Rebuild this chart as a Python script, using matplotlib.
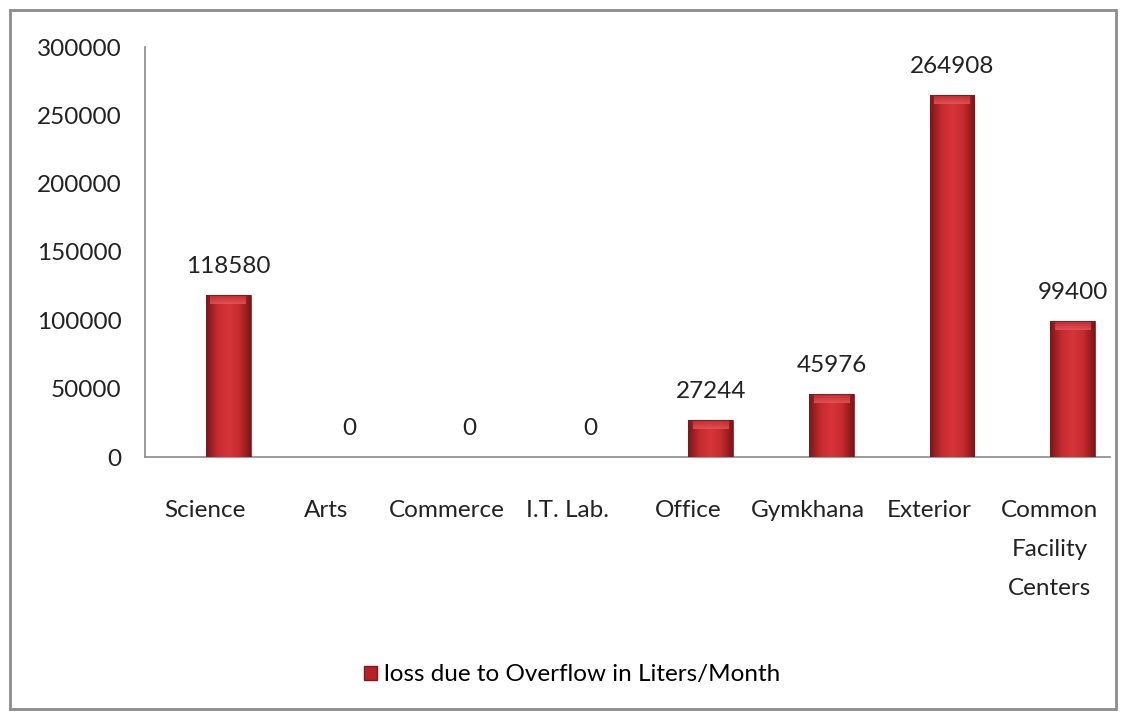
import numpy as np
import matplotlib
matplotlib.use('Agg')
import matplotlib.pyplot as plt
from matplotlib.colors import LinearSegmentedColormap
from matplotlib.patches import Rectangle

categories = ['Science', 'Arts', 'Commerce', 'I.T. Lab.', 'Office', 'Gymkhana',
              'Exterior', 'Common\nFacility\nCenters']
loss = [118580, 0, 0, 0, 27244, 45976, 264908, 99400]
series_name = 'loss due to Overflow in Liters/Month'

plt.rcParams['font.family'] = ['Lato', 'DejaVu Sans']
FS = 17.5

fig = plt.figure(figsize=(11.27, 7.17), dpi=100)
ax = fig.add_axes([145/1127, 1 - 457/717, 965/1127, 410/717])

# outer chart frame
fig.patches.append(Rectangle((10/1127, 8/717), 1106/1127, 699/717,
                             transform=fig.transFigure, fill=False,
                             edgecolor='#8c8c8c', linewidth=2))

x = np.arange(len(categories))
offset = 0.19
width = 0.37

# shaded red bars: dark edges, lighter middle
cmap = LinearSegmentedColormap.from_list('bar', ['#7d1618', '#c42a2e', '#d6363a', '#c42a2e', '#7d1618'])
grad = np.linspace(0, 1, 64).reshape(1, -1)
bevel = LinearSegmentedColormap.from_list('bevel', ['#c42a2e', '#e2585b'])
bars = ax.bar(x + offset, loss, width, color='#c82d30', edgecolor='#7a1a1a', linewidth=0.6, zorder=2)
for b, v in zip(bars, loss):
    if v <= 0:
        continue
    im = ax.imshow(grad, cmap=cmap, aspect='auto', zorder=3,
                   extent=[b.get_x(), b.get_x() + b.get_width(), 0, v])
    im.set_clip_path(b)
    # soft light bevel at the top
    top = ax.imshow(np.linspace(0, 1, 32).reshape(-1, 1), cmap=bevel, aspect='auto', zorder=4, alpha=0.85,
                    extent=[b.get_x() + width*0.1, b.get_x() + width*0.9, v - 6500, v - 400])
    top.set_clip_path(b)
    b.set_zorder(5)
    b.set_facecolor('none')

for xi, v in zip(x, loss):
    ax.text(xi + offset, v + 13000, f'{v}', ha='center', va='bottom', fontsize=FS, color='#222222')

ax.set_xlim(-0.5, len(categories) - 0.5)
ax.set_ylim(0, 300000)
ax.set_yticks(np.arange(0, 300001, 50000))
ax.set_yticklabels([f'{t}' for t in range(0, 300001, 50000)], fontsize=FS, color='#222222')
ax.set_xticks(x)
ax.set_xticklabels(categories, fontsize=FS, color='#222222', linespacing=2.05)
ax.tick_params(axis='both', length=0)
ax.tick_params(axis='y', pad=17)
ax.tick_params(axis='x', pad=31)
for s in ['top', 'right']:
    ax.spines[s].set_visible(False)
ax.spines['left'].set_color('#8a8a8a')
ax.spines['bottom'].set_color('#8a8a8a')
ax.spines['left'].set_linewidth(1.2)
ax.spines['bottom'].set_linewidth(1.2)

handle = Rectangle((0, 0), 1, 1, facecolor='#b82226', edgecolor='#7a1a1a')
fig.legend([handle], [series_name], loc='center', bbox_to_anchor=(572/1127, 1 - 675/717),
           frameon=False, fontsize=FS, handlelength=0.55, handleheight=0.55, handletextpad=0.3)

fig.savefig('out.png', dpi=100, facecolor='white')
